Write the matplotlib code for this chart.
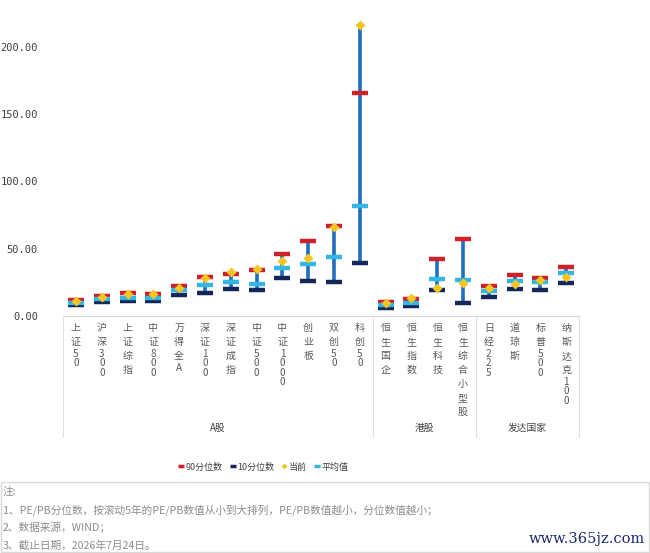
import matplotlib.pyplot as plt
from matplotlib.lines import Line2D
from matplotlib.patches import Rectangle

plt.rcParams['font.family'] = ['Noto Sans CJK SC', 'DejaVu Sans']

names = ['上证50', '沪深300', '上证综指', '中证800', '万得全A', '深证100', '深证成指',
         '中证500', '中证1000', '创业板', '双创50', '科创50',
         '恒生国企', '恒生指数', '恒生科技', '恒生综合小型股',
         '日经225', '道琼斯', '标普500', '纳斯达克100']
groups = ['A股', '港股', '发达国家']
group_sizes = [12, 4, 4]

p90 = [12.0, 14.5, 17.0, 16.5, 22.5, 29.0, 31.0, 34.0, 46.0, 55.5, 67.0, 165.5,
       10.6, 12.4, 42.6, 57.5, 22.3, 30.5, 28.3, 36.2]
p10 = [8.5, 10.5, 10.8, 11.0, 15.4, 17.0, 20.0, 19.0, 28.5, 26.0, 25.5, 39.6,
       5.7, 7.4, 19.0, 10.0, 14.0, 20.0, 19.3, 24.8]
current = [11.5, 14.0, 16.5, 16.0, 21.0, 28.0, 33.0, 35.0, 41.0, 43.0, 66.0, 216.5,
           10.0, 13.0, 21.0, 24.8, 21.0, 23.6, 26.8, 28.8]
mean = [10.0, 12.5, 13.5, 13.0, 19.0, 23.0, 25.0, 24.0, 36.0, 38.7, 44.0, 82.0,
        8.0, 9.5, 27.5, 26.8, 18.6, 26.0, 25.0, 32.2]

c90 = '#d0202a'
c10 = '#14275a'
ccur = '#f3c623'
cmean = '#33b5e5'
cline = '#1f6ebf'

fig = plt.figure(figsize=(6.5, 5.53), dpi=100)
ax = fig.add_axes([0.097, 0.4286, 0.794, 0.5474])
ax_h = 0.5474 * 553  # axes height in px

x = list(range(len(names)))
# high-low lines span all four series
lows = [min(a, b, c, d) for a, b, c, d in zip(p90, p10, current, mean)]
highs = [max(a, b, c, d) for a, b, c, d in zip(p90, p10, current, mean)]
ax.vlines(x, lows, highs, color=cline, lw=2.6, zorder=2)
ax.plot(x, p90, ls='none', marker='_', ms=11, mew=3.2, color=c90, zorder=3)
ax.plot(x, p10, ls='none', marker='_', ms=11, mew=3.2, color=c10, zorder=3)
ax.plot(x, mean, ls='none', marker='_', ms=11, mew=3.2, color=cmean, zorder=4)
ax.plot(x, current, ls='none', marker='D', ms=5.5, color=ccur, mec='none', zorder=5)

ax.set_xlim(-0.5, len(names) - 0.5)
ax.set_ylim(0, 225)
ax.set_yticks([0, 50, 100, 150, 200])
ax.set_yticklabels(['%.2f' % v for v in [0, 50, 100, 150, 200]],
                   family='DejaVu Sans Mono', fontsize=7.5, color='#404040')
ax.tick_params(axis='y', length=0, pad=18)
ax.set_xticks([])
for s in ['top', 'right', 'left']:
    ax.spines[s].set_visible(False)
ax.spines['bottom'].set_color('#d9d9d9')

# category table under the plot, characters stacked vertically
tr = ax.get_xaxis_transform()
for i, n in enumerate(names):
    y = 12.0  # px below axis
    prev = None
    for ch in n:
        h = 9.5 if ch.isascii() else 14.0
        if prev is not None:
            y += (prev + h) / 2
        ax.text(i, -y / ax_h, ch, transform=tr, ha='center', va='center',
                fontsize=7.2, color='#595959')
        prev = h

edges = [-0.5]
for g in group_sizes:
    edges.append(edges[-1] + g)
for e in edges:
    ax.plot([e, e], [0, -0.40], transform=tr, color='#e0e0e0', lw=0.8, clip_on=False)
for k, g in enumerate(groups):
    ax.text((edges[k] + edges[k + 1]) / 2, -0.37, g, transform=tr, ha='center',
            va='center', fontsize=7, color='#404040')

handles = [
    Line2D([], [], ls='none', marker='_', ms=5, mew=2.5, color=c90),
    Line2D([], [], ls='none', marker='_', ms=5, mew=2.5, color=c10),
    Line2D([], [], ls='none', marker='D', ms=3, color=ccur, mec='none'),
    Line2D([], [], ls='none', marker='_', ms=5, mew=2.5, color=cmean),
]
fig.legend(handles, ['90分位数', '10分位数', '当前', '平均值'], loc='center',
           bbox_to_anchor=(0.405, 1 - 467 / 553), ncol=4, frameon=False,
           fontsize=6.5, handlelength=0.6, handletextpad=0.2, columnspacing=0.8,
           labelcolor='#404040')

# notes box
fig.patches.append(Rectangle((0.002, 0.002), 0.996, (553 - 483) / 553,
                             transform=fig.transFigure, fill=False,
                             ec='#d9d9d9', lw=1))
notes = ['注:',
         '1、PE/PB分位数，按滚动5年的PE/PB数值从小到大排列，PE/PB数值越小，分位数值越小；',
         '2、数据来源，WIND；',
         '3、截止日期，2026年7月24日。']
for k, t in enumerate(notes):
    fig.text(0.004, 1 - (492 + 17.8 * k) / 553, t, ha='left', va='center',
             fontsize=7.7, color='#8c8c8c')

fig.text(0.992, 1 - 539 / 553, 'www.365jz.com', ha='right', va='center',
         family='DejaVu Serif', fontsize=10.5, color='#1a2a6c')

fig.savefig('out.png', dpi=100)
